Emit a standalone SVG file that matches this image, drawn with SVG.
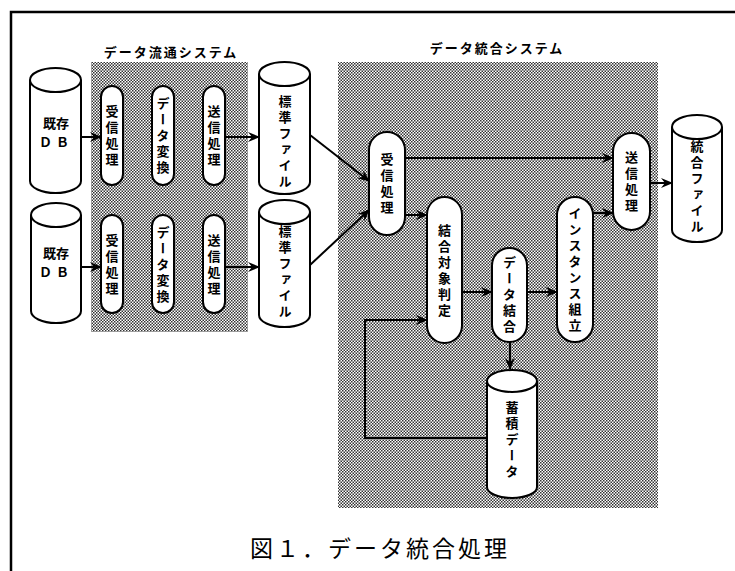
<svg xmlns="http://www.w3.org/2000/svg" width="735" height="571" viewBox="0 0 735 571">
<defs>
<pattern id="dots" width="3" height="3" patternUnits="userSpaceOnUse">
<rect width="3" height="3" fill="#ffffff"/>
<rect x="0" y="0" width="1.5" height="1.5" fill="#333"/>
<rect x="1.5" y="1.5" width="1.5" height="1.5" fill="#333"/>
</pattern>
<marker id="ah" viewBox="0 0 12 10" refX="11" refY="5" markerWidth="12" markerHeight="10" markerUnits="userSpaceOnUse" orient="auto">
<path d="M0,0 L12,5 L0,10 L4,5 z" fill="#000"/>
</marker>
<style>
.shape{fill:#fff;stroke:#000;stroke-width:2}
.vt{font-family:"Noto Sans CJK JP","Noto Sans",sans-serif;font-weight:bold;font-size:13px;writing-mode:vertical-rl;text-anchor:middle;letter-spacing:3px;fill:#000}
.ht{font-family:"Noto Sans CJK JP","Noto Sans",sans-serif;font-weight:bold;font-size:13px;text-anchor:middle;fill:#000}
.ttl{font-family:"Noto Sans CJK JP","Noto Sans",sans-serif;font-weight:bold;font-size:13px;text-anchor:middle;letter-spacing:2px;fill:#000}
.cap{font-family:"Noto Sans CJK JP","Noto Sans",sans-serif;font-size:23px;text-anchor:middle;letter-spacing:3px;fill:#000}
.conn{fill:none;stroke:#000;stroke-width:2;marker-end:url(#ah)}
</style>
</defs>
<rect width="735" height="571" fill="#fff"/>
<!-- frame -->
<path d="M11,571 L11,12 L735,12" fill="none" stroke="#000" stroke-width="2.5"/>
<!-- system areas -->
<rect x="91" y="62" width="157" height="270" fill="url(#dots)"/>
<rect x="338" y="62" width="320" height="446" fill="url(#dots)"/>
<text class="ttl" x="171" y="57">データ流通システム</text>
<text class="ttl" x="497" y="53">データ統合システム</text>

<!-- connectors -->
<g id="connectors">
<line class="conn" x1="81" y1="137" x2="101" y2="137"/>
<line class="conn" x1="225" y1="137" x2="259" y2="137"/>
<line class="conn" x1="81" y1="267" x2="101" y2="267"/>
<line class="conn" x1="225" y1="267" x2="259" y2="267"/>
<line class="conn" x1="310" y1="135" x2="369" y2="181"/>
<line class="conn" x1="310" y1="265" x2="369" y2="210"/>
<line class="conn" x1="405" y1="158" x2="613" y2="158"/>
<line class="conn" x1="405" y1="215" x2="427" y2="215"/>
<line class="conn" x1="593" y1="213" x2="613" y2="213"/>
<line class="conn" x1="650" y1="183" x2="672" y2="183"/>
<line class="conn" x1="462" y1="292" x2="492" y2="292"/>
<line class="conn" x1="527" y1="292" x2="557" y2="292"/>
<line class="conn" x1="510" y1="342" x2="510" y2="369"/>
<path class="conn" d="M487,438 L365,438 L365,320 L427,320"/>
</g>

<!-- left system -->
<g id="db1">
<path class="shape" d="M30,80 L30,181 A25.5,12 0 0 0 81,181 L81,80"/>
<ellipse class="shape" cx="55.5" cy="80" rx="25.5" ry="12"/>
<text class="ht" x="56" y="128">既存</text>
<text class="ht" x="56" y="147" style="letter-spacing:4px">ＤＢ</text>
</g>
<g id="db2">
<path class="shape" d="M31,215 L31,311 A25,12 0 0 0 81,311 L81,215"/>
<ellipse class="shape" cx="56" cy="215" rx="25" ry="12"/>
<text class="ht" x="56" y="258">既存</text>
<text class="ht" x="56" y="277" style="letter-spacing:4px">ＤＢ</text>
</g>
<g id="recv1">
<rect class="shape" x="101" y="86" width="22" height="99" rx="11"/>
<text class="vt" x="112" y="137">受信処理</text>
</g>
<g id="conv1">
<rect class="shape" x="152" y="86" width="22" height="99" rx="11"/>
<text class="vt" x="163" y="137">データ変換</text>
</g>
<g id="send1">
<rect class="shape" x="203" y="86" width="22" height="99" rx="11"/>
<text class="vt" x="214" y="137">送信処理</text>
</g>
<g id="std1">
<path class="shape" d="M259,74 L259,182 A25.5,12 0 0 0 310,182 L310,74"/>
<ellipse class="shape" cx="284.5" cy="74" rx="25.5" ry="12"/>
<text class="vt" x="285" y="143">標準ファイル</text>
</g>
<g id="recv2">
<rect class="shape" x="101" y="215" width="22" height="98" rx="11"/>
<text class="vt" x="112" y="266">受信処理</text>
</g>
<g id="conv2">
<rect class="shape" x="152" y="215" width="22" height="98" rx="11"/>
<text class="vt" x="163" y="266">データ変換</text>
</g>
<g id="send2">
<rect class="shape" x="203" y="215" width="22" height="98" rx="11"/>
<text class="vt" x="214" y="266">送信処理</text>
</g>
<g id="std2">
<path class="shape" d="M259,212 L259,315 A25.5,12 0 0 0 310,315 L310,212"/>
<ellipse class="shape" cx="284.5" cy="212" rx="25.5" ry="12"/>
<text class="vt" x="285" y="273">標準ファイル</text>
</g>

<!-- right system -->
<g id="recv3">
<rect class="shape" x="369" y="132" width="36" height="103" rx="18"/>
<text class="vt" x="387" y="185">受信処理</text>
</g>
<g id="judge">
<rect class="shape" x="427" y="197" width="35" height="146" rx="17.5"/>
<text class="vt" x="444.5" y="272">結合対象判定</text>
</g>
<g id="join">
<rect class="shape" x="492" y="248" width="35" height="94" rx="17.5"/>
<text class="vt" x="509.5" y="296">データ結合</text>
</g>
<g id="inst">
<rect class="shape" x="557" y="197" width="36" height="145" rx="18"/>
<text class="vt" x="575" y="271">インスタンス組立</text>
</g>
<g id="send3">
<rect class="shape" x="613" y="133" width="37" height="97" rx="18.5"/>
<text class="vt" x="631.5" y="183">送信処理</text>
</g>
<g id="merged">
<path class="shape" d="M672,127 L672,230 A25,12 0 0 0 722,230 L722,127"/>
<ellipse class="shape" cx="697" cy="127" rx="25" ry="12"/>
<text class="vt" x="697" y="188">統合ファイル</text>
</g>
<g id="store">
<path class="shape" d="M487,381 L487,487 A25,11 0 0 0 537,487 L537,381"/>
<ellipse class="shape" cx="512" cy="381" rx="25" ry="11"/>
<text class="vt" x="512" y="441">蓄積データ</text>
</g>

<text class="cap" x="380" y="557">図１．データ統合処理</text>
</svg>
